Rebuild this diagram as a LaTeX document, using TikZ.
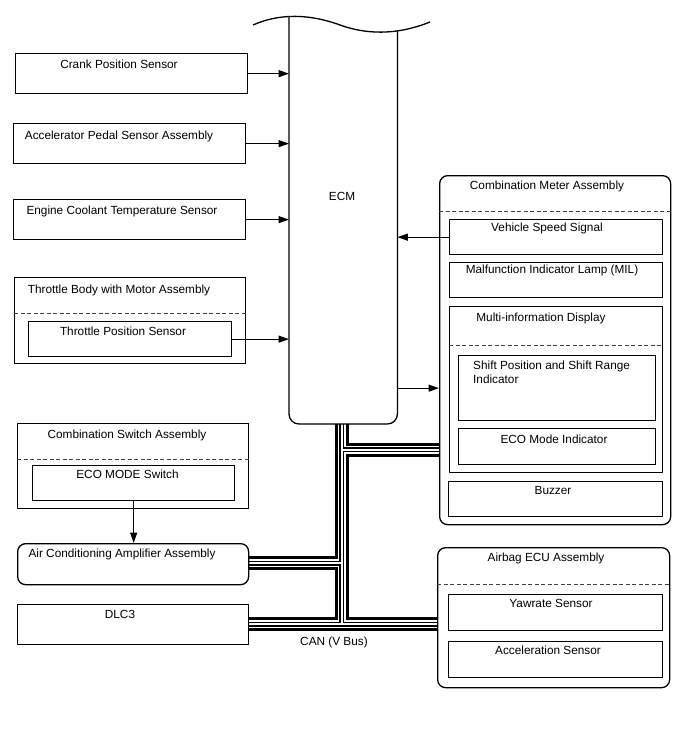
\documentclass[tikz,border=0pt]{standalone}
\usepackage{fontspec}
\setmainfont{Liberation Sans}
\usetikzlibrary{arrows.meta}
\pgfdeclarelayer{background}
\pgfsetlayers{background,main}
\begin{document}
\begin{tikzpicture}[x=1pt,y=-1pt,
  box/.style={draw, line width=1.3pt, inner sep=0pt, anchor=north west},
  rbox/.style={box, rounded corners=8pt},
  txt/.style={anchor=base, inner sep=0pt, font=\fontsize{11.8}{14}\selectfont},
  ltxt/.style={anchor=base west, inner sep=0pt, font=\fontsize{11.8}{14}\selectfont},
  dashline/.style={line width=0.8pt, dash pattern=on 4pt off 2.5pt, black!75},
  arr/.style={line width=1.2pt, -{Triangle[length=10.5pt,width=7pt]}},
  outline/.style={line width=1.3pt}]
\useasboundingbox (0,0) rectangle (688,755);

% ---- ECM ----
\node[inner sep=0pt, minimum width=108pt, minimum height=407pt, anchor=south west] (ecm) at (289,424) {};
\draw[outline, rounded corners=10pt] (ecm.west |- 0,17) -- (ecm.south west) -- (ecm.south east) -- (ecm.east |- 0,31);
\draw[outline] (253,25) .. controls (280,13) and (310,14) .. (340,25) .. controls (365,34) and (395,36) .. (430,22);
\node[txt] (tecm) at (342,200) {ECM};

% ---- left sensors ----
\node[box, minimum width=232pt, minimum height=40pt] (crank) at (15,53) {};
\node[txt] (tcrank) at (119,68) {Crank Position Sensor};
\node[box, minimum width=232pt, minimum height=40pt] (accel) at (13,123) {};
\node[txt] (taccel) at (119,139) {Accelerator Pedal Sensor Assembly};
\node[box, minimum width=232pt, minimum height=40pt] (cool) at (13,199) {};
\node[txt] (tcool) at (122,214) {Engine Coolant Temperature Sensor};
\node[box, minimum width=231pt, minimum height=86pt] (thr) at (14,277) {};
\node[txt] (tthr) at (119,293) {Throttle Body with Motor Assembly};
\draw[dashline] (thr.west |- 0,313) -- (thr.east |- 0,313);
\node[box, minimum width=203pt, minimum height=35pt] (tps) at (28,321) {};
\node[txt] (ttps) at (123,335) {Throttle Position Sensor};

\draw[arr] (crank.east) -- (ecm.west |- crank.east);
\draw[arr] (accel.east) -- (ecm.west |- accel.east);
\draw[arr] (cool.east) -- (ecm.west |- cool.east);
\draw[arr] (tps.east) -- (ecm.west |- tps.east);

% ---- combination meter ----
\node[rbox, minimum width=231pt, minimum height=349pt] (meter) at (439,175) {};
\node[txt] (tmeter) at (547,189) {Combination Meter Assembly};
\draw[dashline] (meter.west |- 0,211) -- (meter.east |- 0,211);
\node[box, minimum width=213pt, minimum height=35pt] (vss) at (449,219) {};
\node[txt] (tvss) at (547,231) {Vehicle Speed Signal};
\node[box, minimum width=213pt, minimum height=35pt] (mil) at (449,262) {};
\node[txt] (tmil) at (552,273) {Malfunction Indicator Lamp (MIL)};
\node[box, minimum width=213pt, minimum height=166pt] (mid) at (449,306) {};
\node[txt] (tmid) at (541,321) {Multi-information Display};
\draw[dashline] (mid.west |- 0,345) -- (mid.east |- 0,345);
\node[box, minimum width=197pt, minimum height=65pt] (shift) at (458,355) {};
\node[ltxt] (tshift1) at (473,369) {Shift Position and Shift Range};
\node[ltxt] (tshift2) at (473,383) {Indicator};
\node[box, minimum width=197pt, minimum height=36pt] (ecoind) at (458,428) {};
\node[txt] (tecoind) at (554,443) {ECO Mode Indicator};
\node[box, minimum width=214pt, minimum height=35pt] (buzz) at (448,481) {};
\node[txt] (tbuzz) at (553,494) {Buzzer};

\draw[arr] (vss.west) -- (ecm.east |- vss.west);
\draw[arr] (ecm.east |- shift.west) -- (meter.west |- shift.west);

% ---- combination switch / AC / DLC3 ----
\node[box, minimum width=231pt, minimum height=85pt] (csw) at (17,423) {};
\node[txt] (tcsw) at (127,438) {Combination Switch Assembly};
\draw[dashline] (csw.west |- 0,459) -- (csw.east |- 0,459);
\node[box, minimum width=202pt, minimum height=35pt] (ecosw) at (32,465) {};
\node[txt] (tecosw) at (127.5,478) {ECO MODE Switch};
\node[rbox, minimum width=231pt, minimum height=41pt] (acamp) at (17,543) {};
\node[txt] (tacamp) at (122,557) {Air Conditioning Amplifier Assembly};
\node[box, minimum width=231pt, minimum height=40pt] (dlc) at (17,604) {};
\node[txt] (tdlc) at (120,618) {DLC3};

\draw[arr] (ecosw.south) -- (ecosw.south |- acamp.north);

% ---- airbag ----
\node[rbox, minimum width=232pt, minimum height=140pt] (airbag) at (437,547) {};
\node[txt] (tairbag) at (546,561) {Airbag ECU Assembly};
\draw[dashline] (airbag.west |- 0,584) -- (airbag.east |- 0,584);
\node[box, minimum width=214pt, minimum height=36pt] (yaw) at (448,594) {};
\node[txt] (tyaw) at (551,607) {Yawrate Sensor};
\node[box, minimum width=214pt, minimum height=36pt] (accs) at (448,641) {};
\node[txt] (taccs) at (548,654) {Acceleration Sensor};

% ---- CAN bus ----
\coordinate (bt) at (341.5,424);
\coordinate (bb) at (341.5,624);
\coordinate (j1) at (341.5,449.5);
\coordinate (j2) at (341.5,563);
\begin{pgfonlayer}{background}
\foreach \w/\c in {14/black,8/white,5/black,2/white}{
  \draw[line width=\w pt, color=\c]
    (bt) -- (bb)
    (j1) -- (meter.west |- j1)
    (j2) -- (acamp.east |- j2)
    (dlc.east |- bb) -- (airbag.west |- bb);
}
\end{pgfonlayer}
\node[txt] (tcan) at (334,645) {CAN (V Bus)};
\end{tikzpicture}
\end{document}
